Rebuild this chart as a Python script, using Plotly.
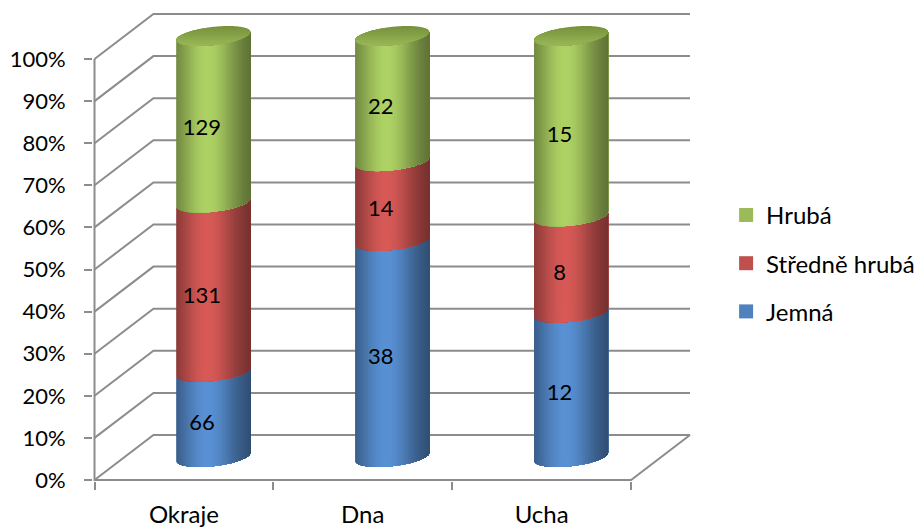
import numpy as np
import plotly.graph_objects as go

# ---- data -------------------------------------------------------------
categories = ["Okraje", "Dna", "Ucha"]
series_names = ["Jemná", "Středně hrubá", "Hrubá"]
jemna = [66, 38, 12]
stredne_hruba = [131, 14, 8]
hruba = [129, 22, 15]
y_tick_values = [0, 10, 20, 30, 40, 50, 60, 70, 80, 90, 100]
y_tick_labels = [f"{v}%" for v in y_tick_values]

series_values = [jemna, stredne_hruba, hruba]
base_colors = [(79, 129, 189), (192, 80, 77), (155, 187, 89)]
cap_dark = (120, 146, 60)
cap_light = (152, 182, 86)
grid_color = "#8c8c8c"
FONT = "Lato"

# ---- oblique projection (data units: category index / percent) --------
PX_PER_CAT = 179.0
PX_PER_PCT = 4.21
DEPTH_X = 59 / PX_PER_CAT
DEPTH_Y = 45 / PX_PER_PCT
CYL_X = 29.5 / PX_PER_CAT
CYL_Y = 23 / PX_PER_PCT
RAD_X = 33.8 / PX_PER_CAT
SKEW_X = 15 / PX_PER_CAT
RAD_Y = 10 / PX_PER_PCT
LABEL_DX = 18 / PX_PER_CAT
LABEL_DY = 13 / PX_PER_PCT

X_MIN = -0.5 - 1.5 / PX_PER_CAT
X_MAX = -0.5 + 606 / PX_PER_CAT
Y_MIN = -1 / PX_PER_PCT
Y_MAX = 470 / PX_PER_PCT

# ---- stacked 100 % -----------------------------------------------------
totals = np.sum(np.array(series_values, dtype=float), axis=0)
pct = [np.array(v, dtype=float) / totals * 100 for v in series_values]
bottoms = [np.zeros(len(categories))]
for p in pct[:-1]:
    bottoms.append(bottoms[-1] + p)


def path(points):
    return "M " + " L ".join(f"{x:.5f},{y:.5f}" for x, y in points) + " Z"


def rgb(c):
    return "rgb({},{},{})".format(*(min(255, int(round(v))) for v in c))


def shade(base, u):
    f = 0.55 + 0.57 * np.exp(-((u - 0.42) / 0.4) ** 2)
    return rgb([c * f for c in base])


def ellipse_pt(cx, cy, t):
    return cx + RAD_X * np.cos(t) + SKEW_X * np.sin(t), cy + RAD_Y * np.sin(t)


shapes = []

# walls / floor grid
x_back_right = 2.5 + DEPTH_X
for v in y_tick_values:
    shapes.append(dict(
        type="path", layer="below", xref="x", yref="y",
        path=f"M -0.5,{v} L {-0.5 + DEPTH_X},{v + DEPTH_Y} L {x_back_right},{v + DEPTH_Y}",
        line=dict(color=grid_color, width=2)))
shapes.append(dict(type="path", layer="below", xref="x", yref="y",
                   path=f"M -0.5,100 L -0.5,0 L 2.5,0 L {x_back_right},{DEPTH_Y}",
                   line=dict(color=grid_color, width=2)))

# cylinders: each shading strip runs from its own angle to the right
# silhouette, drawn left to right so later strips cover earlier seams
alpha = np.arctan2(SKEW_X, RAD_X)
theta = np.linspace(np.pi + alpha, 2 * np.pi + alpha, 49)
x_left = ellipse_pt(0, 0, theta[0])[0]
x_right = ellipse_pt(0, 0, theta[-1])[0]
n_strips = len(theta) - 1
t_full = np.linspace(0, 2 * np.pi, 241)

for ci in range(len(categories)):
    cx = ci + CYL_X
    for si in range(len(series_values)):
        y0 = bottoms[si][ci] + CYL_Y
        y1 = y0 + pct[si][ci]
        for k in range(n_strips):
            arc = theta[k:]
            lower = [ellipse_pt(cx, y0, t) for t in arc]
            upper = [ellipse_pt(cx, y1, t) for t in arc[::-1]]
            xm = (ellipse_pt(cx, y0, theta[k])[0] + ellipse_pt(cx, y0, theta[k + 1])[0]) / 2
            u = (xm - cx - x_left) / (x_right - x_left)
            shapes.append(dict(
                type="path", layer="below", xref="x", yref="y",
                path=path(lower + upper),
                fillcolor=shade(base_colors[si], u), line=dict(width=0)))
    # top cap: darker towards the back, lighter towards the front rim
    top = bottoms[-1][ci] + pct[-1][ci] + CYL_Y
    cap_pts = [ellipse_pt(cx, top, t) for t in t_full]
    levels = 10
    for j in range(levels):
        cut = top + RAD_Y * (1 - 2 * j / levels)
        pts = [p for p in cap_pts if p[1] <= cut + 1e-9]
        if len(pts) < 3:
            continue
        w = j / (levels - 1)
        col = rgb([d + (l - d) * w for d, l in zip(cap_dark, cap_light)])
        shapes.append(dict(
            type="path", layer="below", xref="x", yref="y",
            path=path(sorted(pts, key=lambda p: np.arctan2(p[1] - top, p[0] - cx))),
            fillcolor=col, line=dict(width=0)))

fig = go.Figure()

# value labels
for si, name in enumerate(series_names):
    mids = bottoms[si] + pct[si] / 2
    fig.add_trace(go.Scatter(
        x=[ci + LABEL_DX for ci in range(len(categories))],
        y=list(mids + LABEL_DY),
        text=[str(v) for v in series_values[si]],
        mode="text", textposition="middle center",
        textfont=dict(family=FONT, size=22, color="black"),
        showlegend=False, hoverinfo="skip"))

# legend entries (top of the stack listed first)
n_series = len(series_names)
for si, name in enumerate(series_names):
    fig.add_trace(go.Scatter(
        x=[None], y=[None], mode="markers", name=name, legendgroup=name,
        legendrank=n_series - si,
        marker=dict(symbol="square", size=14, color=rgb(base_colors[si]))))

fig.update_layout(
    width=922, height=528,
    margin=dict(l=93, r=222, t=10, b=47, autoexpand=False),
    paper_bgcolor="white", plot_bgcolor="white",
    font=dict(family=FONT, size=22, color="black"),
    shapes=shapes,
    showlegend=True,
    legend=dict(x=1.043, y=0.462, xanchor="left", yanchor="middle",
                traceorder="grouped", tracegroupgap=14,
                font=dict(family=FONT, size=24, color="black"),
                bgcolor="rgba(0,0,0,0)", itemclick=False),
    xaxis=dict(range=[X_MIN, X_MAX], showgrid=False, zeroline=False, showline=False,
               tickmode="array", tickvals=list(range(len(categories))), ticktext=categories,
               tickfont=dict(family=FONT, size=24),
               ticks="", ticklabelstandoff=17, automargin=False,
               minor=dict(tick0=-0.5, dtick=1, ticks="outside", ticklen=8,
                          tickwidth=2, tickcolor=grid_color, showgrid=False)),
    yaxis=dict(range=[Y_MIN, Y_MAX], showgrid=False, zeroline=False, showline=False,
               tickmode="array", tickvals=y_tick_values, ticktext=y_tick_labels,
               ticks="outside", ticklen=8, tickwidth=2, tickcolor=grid_color,
               ticklabelstandoff=14, automargin=False),
)

fig.write_html("out.html")
